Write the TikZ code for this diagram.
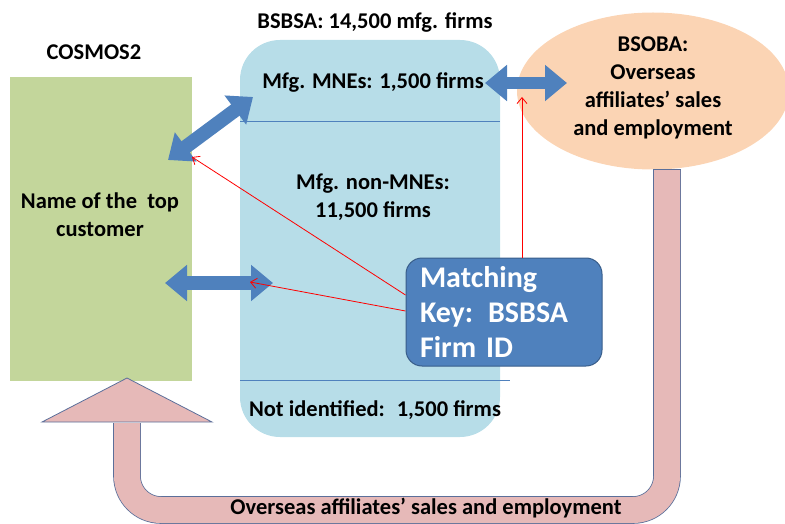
\documentclass[tikz,border=0pt]{standalone}
\usepackage{fontspec}
\setmainfont{Carlito}
\usetikzlibrary{arrows.meta,shapes.geometric}
\definecolor{cosmosgreen}{HTML}{C3D69B}
\definecolor{panelblue}{HTML}{B7DDE8}
\definecolor{keyblue}{HTML}{4F81BD}
\definecolor{keyedge}{HTML}{385D8A}
\definecolor{bsobaorange}{HTML}{FBD4B4}
\definecolor{bandpink}{HTML}{E6B9B8}
\definecolor{bandedge}{HTML}{5B6F9A}
\tikzset{
  boxtext/.style={font=\bfseries\fontsize{22.5}{28}\selectfont, align=center, text=black, inner sep=0pt},
  fat arrow/.style={draw=keyblue, line width=14pt,
    {Triangle[length=22pt,width=35pt]}-{Triangle[length=22pt,width=35pt]}},
  match arrow/.style={draw=red, line width=0.8pt, -{Straight Barb[length=6pt,width=10pt]}},
  divider/.style={draw=keyblue, line width=0.8pt},
  band/.style={draw=bandedge, line width=0.8pt, double=bandpink, double distance=26pt, rounded corners=34pt}
}
\begin{document}
\begin{tikzpicture}[x=1pt,y=-1pt]
  \useasboundingbox (0,0) rectangle (785,524);
  \node[fill=panelblue, rounded corners=40pt, minimum width=260pt, minimum height=397pt] (bsbsa) at (370,238.5) {};
  \draw[divider] (240,121) -- (500,121);
  \draw[divider] (240,380) -- (510,380);
  \node[fill=cosmosgreen, minimum width=182pt, minimum height=304pt] (cosmos) at (101,229) {};
  \node[ellipse, fill=bsobaorange, minimum width=272pt, minimum height=157pt] (bsoba) at (653,91) {};
  \draw
    (375,22) node[boxtext] (bsbsa title) {BSBSA: 14,500 mfg. firms}
    (94,52) node[boxtext] (cosmos title) {COSMOS2}
    (100,215) node[boxtext] (customer) {Name of the~ top\\customer}
    (373,82) node[boxtext] (mne) {Mfg. MNEs: 1,500 firms}
    (373,197) node[boxtext] (nonmne) {Mfg. non-MNEs:\\11,500 firms}
    (375,410) node[boxtext] (notid) {Not identified:~ 1,500 firms}
    (653,88) node[boxtext] (bsoba text) {BSOBA:\\Overseas\\affiliates’ sales\\and employment};
  \coordinate (diag low) at (168,160);
  \coordinate (diag high) at (253,97);
  \coordinate (row low) at (165,283);
  \coordinate (row high) at (273,283);
  \coordinate (bsoba tip) at (567,83);
  \draw[fat arrow] (diag low) -- (diag high);
  \draw[fat arrow] (row low) -- (row high);
  \draw[fat arrow, line width=12pt] (485,83) -- (bsoba tip);
  \node[fill=keyblue, draw=keyedge, line width=1pt, rounded corners=16pt, text width=168pt, inner xsep=14pt,
    minimum height=108pt, align=left, text=white, font=\bfseries\fontsize{30}{35}\selectfont] (key) at (504,312)
    {Matching\\Key: BSBSA\\Firm ID};
  \coordinate (cosmos hit) at (192,157);
  \coordinate (row hit) at (250,282);
  \coordinate (bsoba hit) at (522,97);
  \begin{scope}[match arrow]
    \draw ([yshift=17pt]key.west) to (cosmos hit);
    \draw ([yshift=1pt]key.west) to (row hit);
    \draw (key.north -| bsoba hit) to (bsoba hit);
  \end{scope}
  \filldraw[fill=bandpink, draw=bandedge, line width=0.8pt] (127,378) -- (212,422) -- (42,422) -- cycle;
  \draw[band] ([xshift=14pt]bsoba.south) |- (127,510) -- (127,423);
  \draw[draw=bandedge, line width=0.8pt] ([xshift=0.4pt]bsoba.south) -- ([xshift=27.6pt]bsoba.south);
  \node[boxtext] (band text) at (426,508) {Overseas affiliates’ sales and employment};
\end{tikzpicture}
\end{document}
